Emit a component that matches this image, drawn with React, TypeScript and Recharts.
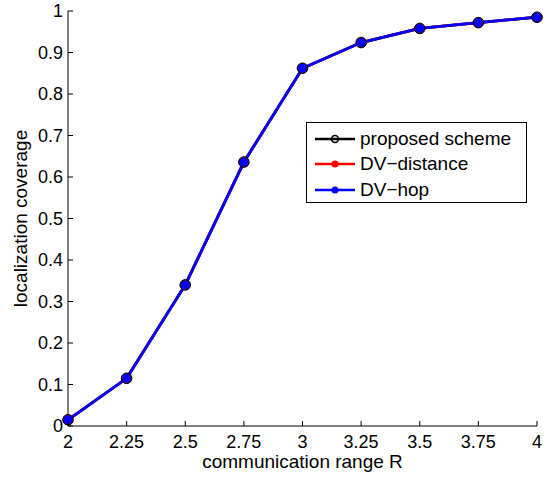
import { LineChart, Line, XAxis, YAxis } from "recharts";

const rangeR = [2, 2.25, 2.5, 2.75, 3, 3.25, 3.5, 3.75, 4];
const proposedScheme = [0.015, 0.115, 0.34, 0.636, 0.862, 0.924, 0.958, 0.972, 0.985];
const dvDistance = [0.015, 0.115, 0.34, 0.636, 0.862, 0.924, 0.958, 0.972, 0.985];
const dvHop = [0.015, 0.115, 0.34, 0.636, 0.862, 0.924, 0.958, 0.972, 0.985];

const xTicks = [2, 2.25, 2.5, 2.75, 3, 3.25, 3.5, 3.75, 4];
const yTicks = [0, 0.1, 0.2, 0.3, 0.4, 0.5, 0.6, 0.7, 0.8, 0.9, 1];

const data = rangeR.map((r, i) => ({
  r,
  proposed: proposedScheme[i],
  distance: dvDistance[i],
  hop: dvHop[i],
}));

const FONT = "'Liberation Sans', Arial, Helvetica, sans-serif";
const TICK_LEN = 5;

function BottomTick(props: any) {
  const { x, y, payload } = props;
  const axisY = y - 22;
  return (
    <g>
      <line x1={x} y1={axisY} x2={x} y2={axisY - TICK_LEN} stroke="#000" />
      <text x={x} y={y} textAnchor="middle" fontSize={18} fontFamily={FONT} fill="#000">
        {payload.value}
      </text>
    </g>
  );
}

function TopTick(props: any) {
  const { x, y } = props;
  return <line x1={x} y1={y} x2={x} y2={y + TICK_LEN} stroke="#000" />;
}

function LeftTick(props: any) {
  const { x, y, payload } = props;
  const axisX = x + 5;
  return (
    <g>
      <line x1={axisX} y1={y} x2={axisX + TICK_LEN} y2={y} stroke="#000" />
      <text x={x} y={y + 6} textAnchor="end" fontSize={18} fontFamily={FONT} fill="#000">
        {payload.value}
      </text>
    </g>
  );
}

function RightTick(props: any) {
  const { x, y } = props;
  return <line x1={x} y1={y} x2={x - TICK_LEN} y2={y} stroke="#000" />;
}

const legendItems = [
  { name: "proposed scheme", color: "#000000", open: true },
  { name: "DV\u2212distance", color: "#ff0000", open: false },
  { name: "DV\u2212hop", color: "#0000ff", open: false },
];

function LegendBox() {
  return (
    <div
      style={{
        position: "absolute",
        left: 306,
        top: 122,
        border: "1px solid #000",
        background: "#fff",
        width: 221,
        height: 81,
        boxSizing: "border-box",
        paddingTop: 3,
        fontFamily: FONT,
        fontSize: 19,
      }}
    >
      {legendItems.map((it) => (
        <div key={it.name} style={{ display: "flex", alignItems: "center", height: 25.5 }}>
          <svg width={53} height={14} style={{ flex: "none" }}>
            <line x1={8} y1={7} x2={48} y2={7} stroke={it.color} strokeWidth={2.5} />
            {it.open ? (
              <circle cx={28} cy={7} r={3.5} fill="none" stroke={it.color} strokeWidth={1.5} />
            ) : (
              <circle cx={28} cy={7} r={3.5} fill={it.color} />
            )}
          </svg>
          <span style={{ color: "#000", whiteSpace: "nowrap" }}>{it.name}</span>
        </div>
      ))}
    </div>
  );
}

export default function App() {
  return (
    <div style={{ position: "absolute", left: 0, top: 0, width: 545, height: 478, background: "#fff" }}>
      <LineChart
        width={545}
        height={478}
        data={data}
        margin={{ top: 11, right: 8, bottom: 0, left: 0 }}
      >
        <XAxis
          dataKey="r"
          type="number"
          domain={[2, 4]}
          ticks={xTicks}
          height={52}
          tickSize={0}
          tickMargin={22}
          tickLine={false}
          axisLine={{ stroke: "#000" }}
          tick={<BottomTick />}
          interval={0}
          label={{
            content: (p: any) => {
              const vb = p.viewBox;
              return (
                <text
                  x={vb.x + vb.width / 2}
                  y={vb.y + 42}
                  textAnchor="middle"
                  fontSize={19}
                  fontFamily={FONT}
                  fill="#000"
                >
                  communication range R
                </text>
              );
            },
          }}
        />
        <XAxis
          xAxisId="top"
          dataKey="r"
          type="number"
          orientation="top"
          domain={[2, 4]}
          ticks={xTicks}
          height={0}
          tickSize={0}
          tickMargin={0}
          tickLine={false}
          axisLine={{ stroke: "#000" }}
          tick={<TopTick />}
          interval={0}
        />
        <YAxis
          type="number"
          domain={[0, 1]}
          ticks={yTicks}
          width={68}
          tickSize={0}
          tickMargin={5}
          tickLine={false}
          axisLine={{ stroke: "#000" }}
          tick={<LeftTick />}
          interval={0}
          label={{
            content: (p: any) => {
              const vb = p.viewBox;
              const cx = 20;
              const cy = vb.y + vb.height / 2;
              return (
                <text
                  x={cx}
                  y={cy}
                  transform={`rotate(-90 ${cx} ${cy})`}
                  textAnchor="middle"
                  dominantBaseline="central"
                  fontSize={19}
                  fontFamily={FONT}
                  fill="#000"
                >
                  localization coverage
                </text>
              );
            },
          }}
        />
        <YAxis
          yAxisId="right"
          type="number"
          orientation="right"
          domain={[0, 1]}
          ticks={yTicks}
          width={0}
          tickSize={0}
          tickMargin={0}
          tickLine={false}
          axisLine={{ stroke: "#000" }}
          tick={<RightTick />}
          interval={0}
        />
        <Line
          type="linear"
          dataKey="proposed"
          name="proposed scheme"
          stroke="#000000"
          strokeWidth={2.8}
          dot={{ r: 5.3, fill: "#000", stroke: "#000", strokeWidth: 1 }}
          isAnimationActive={false}
        />
        <Line
          type="linear"
          dataKey="distance"
          name="DV-distance"
          stroke="#ff0000"
          strokeWidth={2.8}
          dot={{ r: 4.5, fill: "#ff0000", stroke: "#ff0000", strokeWidth: 0 }}
          isAnimationActive={false}
        />
        <Line
          type="linear"
          dataKey="hop"
          name="DV-hop"
          stroke="#0000ff"
          strokeWidth={2.8}
          dot={{ r: 4.5, fill: "#0000ff", stroke: "#0000ff", strokeWidth: 0 }}
          isAnimationActive={false}
        />
      </LineChart>
      <LegendBox />
    </div>
  );
}
